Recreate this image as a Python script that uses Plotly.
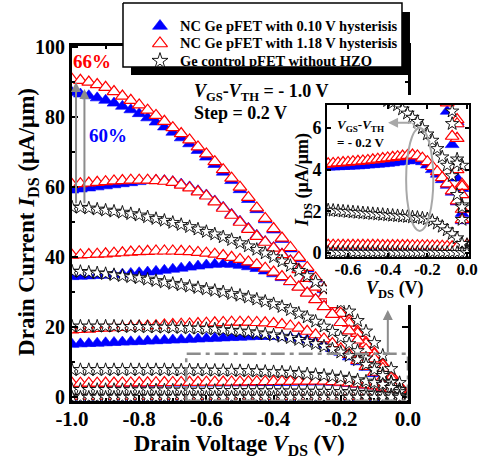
import plotly.graph_objects as go

# ---------------- data ----------------
VDS = [-1.000, -0.975, -0.950, -0.925, -0.900, -0.875, -0.850, -0.825, -0.800, -0.775,
       -0.750, -0.725, -0.700, -0.675, -0.650, -0.625, -0.600, -0.575, -0.550, -0.525,
       -0.500, -0.475, -0.450, -0.425, -0.400, -0.375, -0.350, -0.325, -0.300, -0.275,
       -0.250, -0.225, -0.200, -0.175, -0.150, -0.125, -0.100, -0.075, -0.050, -0.025,
       0.000]

# VGS-VTH = -1.0 V
RED_10 = [90.8, 90.5, 90.0, 89.3, 88.5, 87.3, 86.0, 84.8, 83.5, 82.0,
          80.5, 78.8, 77.0, 75.3, 73.5, 71.5, 69.5, 67.3, 65.0, 62.6,
          60.0, 57.1, 54.1, 51.1, 48.2, 45.5, 42.8, 40.0, 37.1, 34.1,
          31.1, 28.1, 25.1, 22.0, 18.9, 15.8, 12.6, 9.5, 6.4, 3.3, 0.3]
BLUE_10 = [87.0, 86.6, 86.1, 85.5, 84.8, 84.0, 83.1, 82.1, 81.0, 79.8,
           78.6, 77.2, 75.7, 74.1, 72.4, 70.5, 68.6, 66.5, 64.3, 61.9,
           59.3, 56.5, 53.6, 50.7, 47.8, 45.1, 42.4, 39.6, 36.7, 33.8,
           30.8, 27.8, 24.8, 21.8, 18.7, 15.6, 12.5, 9.4, 6.3, 3.2, 0.2]
BLACK_10 = [54.3, 54.2, 54.0, 53.7, 53.4, 53.1, 52.8, 52.4, 52.0, 51.5,
            51.0, 50.5, 49.9, 49.3, 48.7, 48.0, 47.3, 46.6, 45.8, 45.0,
            44.1, 43.2, 42.2, 41.2, 40.1, 38.9, 37.6, 36.2, 34.7, 33.0,
            31.2, 29.2, 27.0, 24.6, 21.9, 18.9, 15.6, 12.0, 8.2, 4.2, 0.4]
# VGS-VTH = -0.8 V
RED_08 = [60.8, 61.0, 61.2, 61.4, 61.6, 61.8, 61.9, 62.0, 62.0, 62.0,
          61.9, 61.7, 61.4, 60.6, 59.8, 58.7, 57.5, 55.8, 54.0, 52.0,
          50.0, 48.0, 46.0, 44.3, 42.6, 40.8, 38.9, 36.5, 34.0, 31.5,
          29.0, 26.5, 24.0, 21.2, 18.3, 15.3, 12.3, 9.2, 6.2, 3.2, 0.3]
BLUE_08 = [59.2, 59.5, 59.8, 60.1, 60.4, 60.7, 61.0, 61.3, 61.6, 61.9,
           62.0, 61.9, 61.6, 60.9, 60.1, 59.0, 57.8, 56.1, 54.3, 52.3,
           50.3, 48.3, 46.3, 44.5, 42.8, 41.0, 39.1, 36.7, 34.2, 31.7,
           29.2, 26.6, 24.1, 21.3, 18.4, 15.4, 12.3, 9.2, 6.2, 3.1, 0.2]
BLACK_08 = [36.0, 35.9, 35.7, 35.5, 35.3, 35.0, 34.7, 34.4, 34.1, 33.7,
            33.3, 32.9, 32.5, 32.1, 31.7, 31.3, 30.9, 30.5, 30.1, 29.6,
            29.1, 28.6, 28.0, 27.4, 26.7, 25.9, 25.0, 24.0, 22.9, 21.7,
            20.3, 18.8, 17.1, 15.3, 13.3, 11.2, 9.0, 6.8, 4.5, 2.3, 0.2]
# VGS-VTH = -0.6 V
RED_06 = [40.6, 40.7, 40.8, 40.9, 41.0, 41.2, 41.3, 41.5, 41.6, 41.7,
          41.8, 41.8, 41.8, 41.7, 41.6, 41.4, 41.2, 40.9, 40.5, 40.0,
          39.4, 38.7, 37.9, 36.9, 35.8, 34.5, 33.1, 31.5, 29.8, 27.9,
          25.9, 23.7, 21.4, 19.0, 16.4, 13.7, 11.0, 8.3, 5.5, 2.8, 0.3]
BLUE_06 = [34.5, 34.6, 34.7, 34.8, 34.9, 35.0, 35.2, 35.4, 35.6, 35.8,
           36.0, 36.3, 36.6, 36.9, 37.2, 37.5, 37.8, 38.0, 38.1, 38.0,
           37.7, 37.3, 36.8, 36.1, 35.3, 34.2, 33.0, 31.6, 29.9, 28.0,
           26.0, 23.8, 21.5, 19.1, 16.5, 13.8, 11.1, 8.3, 5.5, 2.8, 0.3]
BLACK_06 = [20.3, 20.3, 20.3, 20.3, 20.3, 20.3, 20.2, 20.2, 20.2, 20.1,
            20.1, 20.0, 20.0, 19.9, 19.8, 19.7, 19.6, 19.5, 19.3, 19.1,
            18.9, 18.7, 18.4, 18.1, 17.8, 17.4, 17.0, 16.5, 15.9, 15.3,
            14.6, 13.8, 12.9, 11.9, 10.7, 9.4, 7.9, 6.2, 4.3, 2.2, 0.2]
# VGS-VTH = -0.4 V
RED_04 = [19.3, 19.4, 19.5, 19.7, 19.8, 19.9, 20.0, 20.2, 20.3, 20.4,
          20.5, 20.7, 20.8, 20.9, 21.0, 21.1, 21.2, 21.3, 21.4, 21.5,
          21.5, 21.5, 21.4, 21.3, 21.1, 20.8, 20.4, 19.8, 18.9, 17.9,
          16.7, 15.4, 13.9, 12.3, 10.6, 8.9, 7.2, 5.6, 4.0, 2.1, 0.3]
BLUE_04 = [15.2, 15.3, 15.4, 15.5, 15.6, 15.7, 15.8, 15.9, 16.0, 16.1,
           16.2, 16.3, 16.4, 16.5, 16.6, 16.7, 16.8, 16.9, 17.0, 17.1,
           17.2, 17.3, 17.4, 17.4, 17.4, 17.3, 17.1, 16.8, 16.4, 15.8,
           15.0, 14.0, 12.9, 11.6, 10.2, 8.6, 6.8, 5.2, 3.6, 1.9, 0.2]
BLACK_04 = [7.9, 7.9, 7.9, 7.9, 7.9, 7.9, 7.9, 7.9, 7.9, 7.9,
            7.9, 7.9, 7.8, 7.8, 7.8, 7.8, 7.8, 7.7, 7.7, 7.7,
            7.6, 7.6, 7.5, 7.4, 7.3, 7.2, 7.1, 6.9, 6.7, 6.5,
            6.3, 6.0, 5.7, 5.4, 5.0, 4.6, 4.2, 3.7, 2.8, 1.6, 0.2]
# VGS-VTH = -0.2 V
RED_02 = [4.05, 4.07, 4.08, 4.10, 4.11, 4.13, 4.14, 4.16, 4.18, 4.20,
          4.22, 4.25, 4.28, 4.30, 4.32, 4.34, 4.36, 4.38, 4.40, 4.42,
          4.44, 4.47, 4.50, 4.53, 4.56, 4.59, 4.62, 4.65, 4.68, 4.70,
          4.66, 4.55, 4.38, 4.15, 3.90, 3.62, 3.32, 2.98, 2.50, 1.60, 0.40]
BLUE_02 = [4.00, 4.01, 4.02, 4.03, 4.04, 4.05, 4.06, 4.07, 4.08, 4.09,
           4.10, 4.11, 4.12, 4.13, 4.14, 4.15, 4.16, 4.17, 4.18, 4.20,
           4.22, 4.24, 4.26, 4.28, 4.30, 4.33, 4.36, 4.39, 4.42, 4.45,
           4.45, 4.38, 4.22, 4.00, 3.78, 3.52, 3.25, 2.92, 2.45, 1.55, 0.35]
BLACK_02 = [2.25, 2.24, 2.23, 2.22, 2.21, 2.20, 2.18, 2.16, 2.14, 2.12,
            2.10, 2.08, 2.06, 2.04, 2.02, 2.00, 1.98, 1.96, 1.94, 1.92,
            1.90, 1.88, 1.86, 1.84, 1.82, 1.80, 1.78, 1.76, 1.74, 1.72,
            1.70, 1.67, 1.63, 1.55, 1.42, 1.27, 1.10, 0.92, 0.72, 0.45, 0.10]
# VGS-VTH = 0.0 V
RED_00 = [0.38, 0.38, 0.38, 0.38, 0.38, 0.38, 0.38, 0.38, 0.38, 0.38,
          0.38, 0.38, 0.38, 0.38, 0.38, 0.37, 0.37, 0.37, 0.37, 0.37,
          0.37, 0.37, 0.37, 0.36, 0.36, 0.36, 0.36, 0.36, 0.36, 0.35,
          0.35, 0.35, 0.35, 0.34, 0.34, 0.33, 0.32, 0.30, 0.27, 0.20, 0.05]
BLUE_00 = [0.12, 0.12, 0.12, 0.12, 0.12, 0.12, 0.12, 0.12, 0.12, 0.12,
           0.12, 0.12, 0.12, 0.12, 0.12, 0.12, 0.12, 0.12, 0.12, 0.12,
           0.12, 0.12, 0.12, 0.12, 0.12, 0.11, 0.11, 0.11, 0.11, 0.11,
           0.11, 0.11, 0.11, 0.10, 0.10, 0.10, 0.09, 0.08, 0.07, 0.05, 0.02]
BLACK_00 = [0.03, 0.03, 0.03, 0.03, 0.03, 0.03, 0.03, 0.03, 0.03, 0.03,
            0.03, 0.03, 0.03, 0.03, 0.03, 0.03, 0.03, 0.03, 0.03, 0.03,
            0.03, 0.03, 0.03, 0.03, 0.03, 0.03, 0.03, 0.03, 0.03, 0.03,
            0.03, 0.03, 0.03, 0.03, 0.03, 0.02, 0.02, 0.02, 0.02, 0.01, 0.00]

BLUE_SERIES = [BLUE_10, BLUE_08, BLUE_06, BLUE_04, BLUE_02, BLUE_00]
RED_SERIES = [RED_10, RED_08, RED_06, RED_04, RED_02, RED_00]
BLACK_SERIES = [BLACK_10, BLACK_08, BLACK_06, BLACK_04, BLACK_02, BLACK_00]

LEGEND_LABELS = ["NC Ge pFET with 0.10 V hysterisis",
                 "NC Ge pFET with 1.18 V hysterisis",
                 "Ge control pFET without HZO"]

MAIN_XTICKS = [-1.0, -0.8, -0.6, -0.4, -0.2, 0.0]
MAIN_XTEXT = ["-1.0", "-0.8", "-0.6", "-0.4", "-0.2", "0.0"]
MAIN_YTICKS = [0, 20, 40, 60, 80, 100]
INSET_XTICKS = [-0.6, -0.4, -0.2, 0.0]
INSET_XTEXT = ["-0.6", "-0.4", "-0.2", "0.0"]
INSET_YTICKS = [0, 2, 4, 6]

FONT = "Liberation Serif, Times New Roman, serif"
GRAY = "#8c8c8c"
LGRAY = "#a8a8a8"

STYLE = {
    "blue": dict(symbol="triangle-up", size=12, color="#0000ff",
                 line=dict(color="#0000ff", width=0.6)),
    "red": dict(symbol="triangle-up", size=12, color="white",
                line=dict(color="#ff0000", width=1.2)),
    "black": dict(symbol="star", size=10, color="white",
                  line=dict(color="black", width=0.9)),
}

fig = go.Figure()


def add_set(xa, ya):
    for kind, series in (("blue", BLUE_SERIES), ("red", RED_SERIES), ("black", BLACK_SERIES)):
        for vals in series:
            fig.add_trace(go.Scatter(
                x=VDS, y=vals, mode="markers", xaxis=xa, yaxis=ya,
                marker=STYLE[kind], showlegend=False, hoverinfo="skip"))


# main plot (subplot xy)
add_set("x", "y")
# white cover behind the inset (subplot x2y2)
fig.add_trace(go.Scatter(x=[0, 1, 1, 0, 0], y=[0, 0, 1, 1, 0], mode="lines",
                         fill="toself", fillcolor="white", line=dict(width=0),
                         xaxis="x2", yaxis="y2", showlegend=False, hoverinfo="skip"))
# inset (subplot x3y3)
add_set("x3", "y3")

# hand-built legend (subplot x4y4, pixel-like coordinates)
fig.add_trace(go.Scatter(x=[131, 410, 410, 131, 131], y=[12, 12, 75, 75, 12], mode="lines",
                         fill="toself", fillcolor="black", line=dict(width=0, color="black"),
                         xaxis="x4", yaxis="y4", showlegend=False, hoverinfo="skip"))
fig.add_trace(go.Scatter(x=[123, 402, 402, 123, 123], y=[3, 3, 67, 67, 3], mode="lines",
                         fill="toself", fillcolor="white", line=dict(width=1.5, color="black"),
                         xaxis="x4", yaxis="y4", showlegend=False, hoverinfo="skip"))
LEG_ROWS = [26, 43.5, 61]
for kind, yrow in zip(("blue", "red", "black"), LEG_ROWS):
    m = dict(STYLE[kind])
    m["size"] = 13 if kind != "black" else 12
    fig.add_trace(go.Scatter(x=[160], y=[yrow], mode="markers", marker=m,
                             xaxis="x4", yaxis="y4", showlegend=False, hoverinfo="skip"))

axis_common = dict(showgrid=False, zeroline=False, ticks="inside", tickcolor="black",
                   linecolor="black", showline=True, mirror="ticks")

# paper: x 72..469 px, y 0..401 px
fig.update_layout(
    width=486, height=462,
    margin=dict(l=72, r=17, t=0, b=61, pad=0, autoexpand=False),
    paper_bgcolor="white", plot_bgcolor="rgba(0,0,0,0)",
    font=dict(family=FONT, size=16, color="black", weight="bold"),
    showlegend=False,
    xaxis=dict(domain=[0, 0.8463], range=[-1.0, 0.0], anchor="y",
               tickmode="array", tickvals=MAIN_XTICKS, ticktext=MAIN_XTEXT,
               ticklen=6, tickwidth=2, linewidth=3, ticklabelstandoff=-3,
               tickfont=dict(family=FONT, size=21, weight="bold"),
               minor=dict(ticks="inside", dtick=0.1, ticklen=3, tickwidth=1.5, tickcolor="black"),
               **axis_common),
    yaxis=dict(domain=[0, 0.8853], range=[-1.0, 100.3], anchor="x",
               tickmode="array", tickvals=MAIN_YTICKS,
               ticklen=6, tickwidth=2, linewidth=3,
               tickfont=dict(family=FONT, size=20, weight="bold"),
               minor=dict(ticks="inside", dtick=10, ticklen=3, tickwidth=1.5, tickcolor="black"),
               **axis_common),
    xaxis2=dict(domain=[0.6423, 1.0], range=[0, 1], anchor="y2", visible=False),
    yaxis2=dict(domain=[0.2394, 0.7631], range=[0, 1], anchor="x2", visible=False),
    xaxis3=dict(domain=[0.6423, 1.0], range=[-0.706, 0.01], anchor="y3",
                tickmode="array", tickvals=INSET_XTICKS, ticktext=INSET_XTEXT,
                ticklen=4, tickwidth=1.5, linewidth=2, ticklabelstandoff=-4,
                tickfont=dict(family=FONT, size=17, weight="bold"),
                **axis_common),
    yaxis3=dict(domain=[0.3591, 0.7382], range=[-0.19, 7.1], anchor="x3",
                tickmode="array", tickvals=INSET_YTICKS,
                ticklen=4, tickwidth=1.5, linewidth=2,
                tickfont=dict(family=FONT, size=18, weight="bold"),
                **axis_common),
    xaxis4=dict(domain=[0.1209, 0.8564], range=[120, 412], anchor="y4", visible=False),
    yaxis4=dict(domain=[0.8130, 1.0], range=[75, 0], anchor="x4", visible=False),
)

shapes = [
    # zoom-region rectangle (dash-dot)
    dict(type="rect", xref="x", yref="y", x0=-0.66, x1=0.0, y0=-0.9, y1=12.5,
         line=dict(color=GRAY, width=2.5, dash="14px,5px,4px,5px"), layer="above"),
    # ellipse in inset
    dict(type="circle", xref="x3", yref="y3", x0=-0.307, x1=-0.170, y0=1.06, y1=6.0,
         line=dict(color=LGRAY, width=2), layer="above"),
    dict(type="line", xref="x3", yref="y3", x0=-0.262, y0=5.96, x1=-0.272, y1=6.25,
         line=dict(color=LGRAY, width=2), layer="above"),
]
fig.update_layout(shapes=shapes)

C = dict(xanchor="center", yanchor="middle", showarrow=False)
L = dict(xanchor="left", yanchor="middle", showarrow=False)
ann = []
for xv, ytop in ((-0.988, 90.0), (-0.963, 88.0)):
    ann.append(dict(x=xv, y=ytop, ax=xv, ay=55.0, xref="x", yref="y", axref="x", ayref="y",
                    showarrow=True, arrowhead=2, arrowsize=1, arrowwidth=2, arrowcolor=GRAY, text=""))
ann.append(dict(x=-0.06, y=25.0, ax=-0.06, ay=12.5, xref="x", yref="y", axref="x", ayref="y",
                showarrow=True, arrowhead=2, arrowsize=1, arrowwidth=2, arrowcolor=GRAY, text=""))
ann.append(dict(x=-0.398, y=6.25, ax=-0.272, ay=6.25, xref="x3", yref="y3", axref="x3", ayref="y3",
                showarrow=True, arrowhead=2, arrowsize=1, arrowwidth=2, arrowcolor=LGRAY, text=""))
ann += [
    dict(x=-0.940, y=96.0, xref="x", yref="y", text="66%", **C,
         font=dict(family=FONT, size=19, color="#ff0000", weight="bold")),
    dict(x=-0.893, y=74.9, xref="x", yref="y", text="60%", **C,
         font=dict(family=FONT, size=19, color="#0000ff", weight="bold")),
    dict(x=-0.643, y=86.9, xref="x", yref="y", **L,
         text="<i>V</i><sub>GS</sub>-<i>V</i><sub>TH</sub> = - 1.0 V",
         font=dict(family=FONT, size=18, weight="bold")),
    dict(x=-0.643, y=81.2, xref="x", yref="y", **L,
         text="Step = 0.2 V", font=dict(family=FONT, size=18, weight="bold")),
    dict(x=-0.666, y=6.11, xref="x3", yref="y3", **L,
         text="<i>V</i><sub>GS</sub>-<i>V</i><sub>TH</sub>",
         font=dict(family=FONT, size=13, weight="bold")),
    dict(x=-0.666, y=5.29, xref="x3", yref="y3", **L,
         text="= - 0.2 V", font=dict(family=FONT, size=13, weight="bold")),
    dict(x=0.423, y=-0.1097, xref="paper", yref="paper", **C,
         text="Drain Voltage <i>V</i><sub>DS</sub> (V)",
         font=dict(family=FONT, size=22.5, weight="bold")),
    dict(x=-0.111, y=0.4464, xref="paper", yref="paper", textangle=-90, **C,
         text="Drain Current <i>I</i><sub>DS</sub> (μA/μm)",
         font=dict(family=FONT, size=23, weight="bold")),
    dict(x=0.8136, y=0.2793, xref="paper", yref="paper", **C,
         text="<i>V</i><sub>DS</sub> (V)", font=dict(family=FONT, size=18, weight="bold")),
    dict(x=0.5819, y=0.5511, xref="paper", yref="paper", textangle=-90, **C,
         text="<i>I</i><sub>DS</sub> (μA/μm)", font=dict(family=FONT, size=18, weight="bold")),
]
for label, yrow in zip(LEGEND_LABELS, LEG_ROWS):
    ann.append(dict(x=178, y=yrow, xref="x4", yref="y4", **L, text=label,
                    font=dict(family=FONT, size=14.5, weight="bold")))
fig.update_layout(annotations=ann)

fig.write_html("out.html")
